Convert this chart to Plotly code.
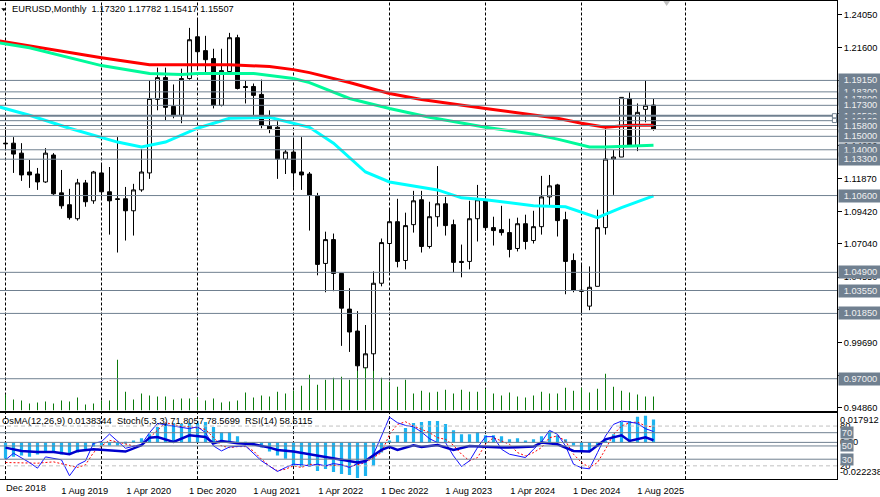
import plotly.graph_objects as go

# monthly bars, bar 0 = Dec 2018
opens = [1.1449, 1.1449, 1.1375, 1.1235, 1.1220, 1.1161, 1.1361, 1.1080, 1.0992, 1.0888,
         1.1154, 1.1021, 1.1228, 1.1088, 1.1036, 1.1036, 1.0947, 1.1102, 1.1228, 1.1774,
         1.1936, 1.1722, 1.1656, 1.1929, 1.2239, 1.2136, 1.2077, 1.1730, 1.1981, 1.2232,
         1.1870, 1.1870, 1.1811, 1.1575, 1.1567, 1.1331, 1.1383, 1.1235, 1.1220, 1.1058,
         1.0556, 1.0733, 1.0482, 1.0217, 1.0054, 0.9781, 0.9885, 1.0409, 1.0704, 1.0866,
         1.0578, 1.0844, 1.1029, 1.0682, 1.0903, 1.0999, 1.0844, 1.0571, 1.0571, 1.0888,
         1.1021, 1.0822, 1.0807, 1.0785, 1.0667, 1.0851, 1.0726, 1.0829, 1.1050, 1.1139,
         1.0881, 1.0578, 1.0357, 1.0239, 1.0386, 1.0822, 1.1331, 1.1346, 1.1781, 1.1427,
         1.1700, 1.17320]
highs = [1.1567, 1.1494, 1.1449, 1.1324, 1.1265, 1.1412, 1.1375, 1.1250, 1.1110, 1.1184,
         1.1176, 1.1243, 1.1287, 1.1272, 1.1494, 1.1124, 1.1147, 1.1405, 1.1914, 1.2010,
         1.2010, 1.1885, 1.2002, 1.2305, 1.2372, 1.2246, 1.2150, 1.2150, 1.2268, 1.2254,
         1.1914, 1.1892, 1.1921, 1.1693, 1.1612, 1.1398, 1.1486, 1.1494, 1.1235, 1.1080,
         1.0792, 1.0778, 1.0482, 1.0372, 1.0202, 1.0099, 1.0497, 1.0741, 1.0955, 1.1036,
         1.0933, 1.1095, 1.1095, 1.1014, 1.1279, 1.1050, 1.0881, 1.0696, 1.1021, 1.1139,
         1.1088, 1.0903, 1.0984, 1.0888, 1.0896, 1.0918, 1.0947, 1.1206, 1.1213, 1.1147,
         1.0940, 1.0630, 1.0549, 1.0534, 1.0955, 1.1567, 1.1398, 1.1789, 1.1826, 1.1744,
         1.1914, 1.17782]
lows = [1.1398, 1.1228, 1.1169, 1.1117, 1.1102, 1.1154, 1.1065, 1.0962, 1.0881, 1.0874,
        1.0977, 1.0999, 1.1029, 1.0770, 1.0637, 1.0726, 1.0763, 1.1088, 1.1184, 1.1693,
        1.1619, 1.1634, 1.1597, 1.1921, 1.2002, 1.1973, 1.1707, 1.1722, 1.1973, 1.1848,
        1.1744, 1.1656, 1.1560, 1.1523, 1.1184, 1.1220, 1.1117, 1.1102, 1.0800, 1.0468,
        1.0342, 1.0350, 0.9944, 0.9899, 0.9737, 0.9737, 0.9752, 1.0386, 1.0490, 1.0527,
        1.0512, 1.0785, 1.0637, 1.0667, 1.0829, 1.0763, 1.0490, 1.0453, 1.0512, 1.0719,
        1.0800, 1.0689, 1.0763, 1.0601, 1.0645, 1.0660, 1.0704, 1.0770, 1.0984, 1.0756,
        1.0327, 1.0342, 1.0180, 1.0209, 1.0386, 1.0770, 1.1065, 1.1346, 1.1427, 1.1390,
        1.1604, 1.15417]
closes = [1.1445, 1.1368, 1.1213, 1.1213, 1.1161, 1.1375, 1.1073, 1.0984, 1.0896, 1.1154,
          1.1014, 1.1235, 1.1088, 1.1021, 1.1032, 1.0947, 1.1102, 1.1235, 1.1781, 1.1936,
          1.1715, 1.1656, 1.1929, 1.2217, 1.2128, 1.2069, 1.1730, 1.1988, 1.2232, 1.1855,
          1.1863, 1.1804, 1.1582, 1.1553, 1.1331, 1.1383, 1.1228, 1.1213, 1.1065, 1.0549,
          1.0733, 1.0482, 1.0224, 1.0047, 0.9796, 0.9885, 1.0409, 1.0711, 1.0866, 1.0571,
          1.0837, 1.1021, 1.0682, 1.0903, 1.0999, 1.0837, 1.0564, 1.0564, 1.0888, 1.1029,
          1.0822, 1.0800, 1.0785, 1.0660, 1.0851, 1.0719, 1.0829, 1.1050, 1.1132, 1.0874,
          1.0571, 1.0357, 1.0350, 1.0379, 1.0822, 1.1331, 1.1346, 1.1789, 1.1427, 1.1678,
          1.1730, 1.15507]
bars = list(range(len(closes)))

volumes = [160, 110, 100, 70, 80, 90, 70, 100, 90, 130, 60, 70, 100, 100, 510, 190, 110, 170,
           150, 140, 140, 110, 120, 120, 130, 100, 120, 80, 90, 100, 180, 130, 150, 140, 190,
           170, 200, 250, 360, 260, 310, 330, 340, 310, 400, 430, 400, 330, 290, 240, 310,
           170, 200, 180, 190, 210, 170, 210, 190, 190, 220, 170, 150, 180, 140, 130, 150,
           190, 170, 170, 230, 200, 230, 180, 220, 370, 240, 200, 180, 160, 140, 140]

ma_red_bars = [-1, 12, 18, 24, 28, 33, 36, 38, 43, 48, 52, 60, 66, 69, 72, 75, 78, 81]
ma_red = [1.2210, 1.2084, 1.2032, 1.2032, 1.2032, 1.2018, 1.1995, 1.1973, 1.1899, 1.1818,
          1.1774, 1.1707, 1.1656, 1.1634, 1.1597, 1.1567, 1.1582, 1.1582]
ma_green_bars = [-1, 3, 12, 18, 22, 24, 31, 36, 38, 43, 48, 53, 60, 66, 69, 73, 75, 78, 81]
ma_green = [1.2195, 1.2158, 1.2025, 1.1966, 1.1958, 1.1966, 1.1966, 1.1929, 1.1899, 1.1781,
            1.1707, 1.1641, 1.1567, 1.1516, 1.1479, 1.1420, 1.1420, 1.1427, 1.1434]
ma_cyan_bars = [-1, 3, 8, 14, 17, 20, 24, 28, 33, 36, 38, 41, 45, 48, 54, 57, 60, 66, 70, 74, 77, 81]
ma_cyan = [1.1722, 1.1656, 1.1560, 1.1457, 1.1420, 1.1457, 1.1560, 1.1634, 1.1641, 1.1597,
           1.1567, 1.1449, 1.1235, 1.1161, 1.1102, 1.1043, 1.1029, 1.0984, 1.0977, 1.0896,
           1.0970, 1.1058]

osma = [-.0099, -.0087, -.0080, -.0087, -.0074, -.0062, -.0062, -.0074, -.0074, -.0062,
        -.0049, -.0025, -.0019, -.0019, -.0019, -.0006, .0012, .0025, .0049, .0093,
        .0117, .0117, .0111, .0117, .0117, .0124, .0093, .0062, .0062, .0037,
        -.0006, -.0019, -.0031, -.0056, -.0080, -.0099, -.0142, -.0148, -.0148, -.0173,
        -.0161, -.0179, -.0192, -.0198, -.0216, -.0204, -.0142, -.0062, .0012, .0043,
        .0087, .0117, .0124, .0130, .0130, .0111, .0074, .0049, .0049, .0062,
        .0043, .0043, .0037, .0019, .0025, .0012, .0019, .0037, .0068, .0043,
        .0019, -.0019, -.0056, -.0056, -.0025, .0012, .0049, .0124, .0130, .0155,
        .0161, .01383]

rsi_bars = [0, 2, 4, 6, 8, 9, 11, 13, 15, 17, 18, 19, 21, 23, 25, 26, 27, 29, 31, 33, 34, 36,
            38, 40, 42, 44, 45, 47, 48, 49, 51, 52, 54, 56, 58, 60, 62, 64, 66, 67, 69, 71, 72,
            73, 75, 77, 78, 80, 81]
rsi = [47.5, 42.5, 41, 41, 37.5, 42.5, 45, 43.5, 41.5, 51, 62.5, 63.5, 56, 66, 63.5, 54, 57.5,
       54, 52.5, 47.5, 44, 41.5, 37.5, 33.5, 28.5, 25, 27.5, 44, 48.5, 44, 51, 48.5, 51.5, 44,
       50, 48.5, 47.5, 48, 49, 55, 52.5, 42.5, 41.5, 41.5, 60, 66, 57.5, 63, 58.6]

stoch_main_bars = [0, 1, 3, 4, 5, 7, 8, 9, 10, 11, 12, 13, 15, 16, 17, 18, 19, 21, 23, 24, 25, 26,
                   27, 28, 30, 32, 34, 35, 36, 37, 38, 39, 40, 41, 42, 43, 44, 45, 46, 47, 48, 49,
                   50, 51, 52, 53, 54, 55, 56, 57, 58, 59, 60, 61, 62, 63, 64, 65, 66, 67, 68, 69,
                   70, 71, 72, 73, 74, 75, 76, 77, 78, 79, 80, 81]
stoch_main = [29, 39, 25, 16.5, 33.5, 29, 5, 21.5, 27.5, 54, 56.5, 68, 46.5, 49, 52.5, 70, 84, 80,
              76, 79, 70, 50, 42.5, 48.5, 50, 27.5, 11.5, 17.5, 22.5, 21.5, 20, 22.5, 20, 23.5,
              21.5, 17.5, 23.5, 25, 37.5, 65, 93.5, 85, 81, 79, 71, 61, 55, 55, 35, 19, 27.5,
              47.5, 64, 64, 45, 37.5, 35, 32.5, 45, 56, 73.5, 67.5, 50, 22.5, 17, 15.5, 40, 65,
              82.5, 87.5, 86, 84, 76, 71.8]
stoch_sig_bars = [0, 2, 4, 6, 8, 9, 10, 11, 12, 13, 14, 15, 16, 17, 18, 19, 20, 21, 22, 23, 24, 25,
                  26, 27, 28, 29, 30, 31, 32, 33, 34, 35, 36, 37, 38, 40, 42, 43, 44, 45, 46, 47,
                  48, 49, 50, 51, 52, 53, 54, 55, 56, 57, 58, 59, 60, 61, 62, 63, 64, 65, 66, 67,
                  68, 69, 70, 71, 72, 73, 74, 75, 76, 77, 78, 79, 80, 81]
stoch_sig = [25, 25, 24, 26, 21, 17.5, 21.5, 40, 50, 58.5, 56, 52.5, 50, 51, 62.5, 72.5, 85, 82.5,
             79, 79, 77.5, 75, 62.5, 50, 47.5, 49, 49, 42.5, 30, 20, 12.5, 15, 20, 17.5, 22.5, 20,
             21.5, 19, 21.5, 25, 32.5, 40, 67.5, 82.5, 86.5, 80, 75, 70, 62.5, 60, 51, 37.5, 27.5,
             32.5, 52.5, 62.5, 57.5, 52.5, 40, 35, 40, 47.5, 62.5, 65, 57.5, 37.5, 25, 17.5, 25,
             45, 67.5, 80, 85, 86, 80, 78.6]

# drawn support / resistance levels, label order is the stacking order
levels = [1.1915, 1.1830, 1.1780, 1.1652, 1.1616, 1.1730, 1.1580, 1.1500, 1.1400, 1.1330,
          1.1060, 1.0490, 1.0355, 1.0185, 0.9700]
price_now = 1.15507

price_ticks = [1.2405, 1.2160, 1.1915, 1.1671, 1.1429, 1.1187, 1.0942, 1.0704, 1.0455, 1.0214,
               0.9969, 0.9724, 0.9486]
date_tick_bars = [8, 16, 24, 32, 40, 48, 56, 64, 72, 80]
date_labels = ["1 Aug 2019", "1 Apr 2020", "1 Dec 2020", "1 Aug 2021", "1 Apr 2022",
               "1 Dec 2022", "1 Aug 2023", "1 Apr 2024", "1 Dec 2024", "1 Aug 2025"]
period_bars = [0, 12, 24, 36, 48, 60, 72, 85]

FONT = "Liberation Sans"
FS = 9.3
SLATE = "#708090"
W, H = 880, 497
XR = [-0.6875, 103.9375]  # exactly 8 px per bar
PRICE_R = [0.9464, 1.25046]
OSMA_R = [-0.022238, 0.017912]

fig = go.Figure()
fig.add_trace(go.Candlestick(
    x=bars, open=opens, high=highs, low=lows, close=closes, xaxis="x", yaxis="y",
    whiskerwidth=0, line_width=1,
    increasing=dict(fillcolor="white", line=dict(color="black", width=1)),
    decreasing=dict(fillcolor="black", line=dict(color="black", width=1)),
))
for b, v, c in [(ma_red_bars, ma_red, "#ff0000"), (ma_green_bars, ma_green, "#00fa9a"),
                (ma_cyan_bars, ma_cyan, "#00ffff")]:
    fig.add_trace(go.Scatter(x=b, y=v, mode="lines", line=dict(color=c, width=3), xaxis="x", yaxis="y"))
fig.add_trace(go.Bar(x=bars, y=volumes, width=0.125, marker=dict(color="#0a7a0a", line_width=0),
                     xaxis="x", yaxis="y2"))

fig.add_trace(go.Bar(x=bars, y=osma, width=0.4, marker=dict(color="#1eb4f0", line_width=0),
                     xaxis="x2", yaxis="y3"))
fig.add_trace(go.Scatter(x=stoch_sig_bars, y=stoch_sig, mode="lines",
                         line=dict(color="#ff0000", width=1, dash="2px,2px"), xaxis="x2", yaxis="y4"))
fig.add_trace(go.Scatter(x=stoch_main_bars, y=stoch_main, mode="lines",
                         line=dict(color="#1414ff", width=1), xaxis="x2", yaxis="y4"))
fig.add_trace(go.Scatter(x=rsi_bars, y=rsi, mode="lines",
                         line=dict(color="#0000cd", width=2.5), xaxis="x2", yaxis="y4"))

shapes = []
for b in period_bars:
    shapes.append(dict(type="line", xref="x", yref="y", x0=b, x1=b, y0=PRICE_R[0], y1=PRICE_R[1],
                       line=dict(color="black", width=1, dash="3px,2px"), layer="below"))
    shapes.append(dict(type="line", xref="x2", yref="y3", x0=b, x1=b, y0=OSMA_R[0], y1=OSMA_R[1],
                       line=dict(color="black", width=1, dash="3px,2px"), layer="below"))
for lv in levels:
    shapes.append(dict(type="line", xref="paper", yref="y", x0=0, x1=1, y0=lv, y1=lv,
                       line=dict(color=SLATE, width=2 if lv == 1.1652 else 1)))
shapes.append(dict(type="line", xref="paper", yref="y", x0=0, x1=1, y0=price_now, y1=price_now,
                   line=dict(color="#c0c0c0", width=1)))
# stoch / rsi levels in the sub window
for lv, c, d in [(80, "#c0c0c0", "4px,3px"), (20, "#c0c0c0", "4px,3px"), (70, SLATE, "solid"),
                 (50, SLATE, "solid"), (30, SLATE, "solid")]:
    shapes.append(dict(type="line", xref="paper", yref="y4", x0=0, x1=1, y0=lv, y1=lv,
                       line=dict(color=c, width=1, dash=d)))
shapes.append(dict(type="line", xref="paper", yref="y3", x0=0, x1=1, y0=0, y1=0,
                   line=dict(color=SLATE, width=1)))
# little selection handles and the chart shift marker
for y0, y1 in [(1.1668, 1.1636), (1.1634, 1.1602)]:
    shapes.append(dict(type="rect", xref="paper", yref="y", x0=0.9945, x1=0.9995, y0=y0, y1=y1,
                       fillcolor="white", line=dict(color=SLATE, width=1)))
shapes.append(dict(type="path", xref="paper", yref="paper",
                   path="M 0.7925 1 L 0.8005 1 L 0.7965 0.99 Z", fillcolor="#c0c0c0", line_width=0))
shapes.append(dict(type="path", xref="paper", yref="paper",
                   path="M 0.0015 0.9855 L 0.0075 0.9855 L 0.0045 0.9795 Z", fillcolor="black", line_width=0))

annotations = []
for lv in levels:
    annotations.append(dict(
        xref="paper", yref="y", x=1, y=lv, xanchor="left", yanchor="middle", xshift=1,
        text=f"{lv:.5f}", showarrow=False, width=43, height=12, borderpad=0, bgcolor=SLATE,
        align="center", font=dict(family=FONT, size=FS, color="#f0f0f0")))
for lv in [80, 20]:
    annotations.append(dict(xref="paper", yref="y4", x=1, y=lv, xanchor="left", yanchor="middle", xshift=1,
                            text=str(lv), showarrow=False, font=dict(family=FONT, size=FS, color="black")))
for txt, val, shift in [("0.017912", OSMA_R[1], -7), ("0.00", 0, 0), ("-0.022238", OSMA_R[0], 7)]:
    annotations.append(dict(xref="paper", yref="y3", x=1, y=val, xanchor="left", yanchor="middle", xshift=1,
                            yshift=shift, text=txt, showarrow=False, font=dict(family=FONT, size=FS, color="black")))
for lv in [70, 50, 30]:
    annotations.append(dict(xref="paper", yref="y4", x=1, y=lv, xanchor="left", yanchor="middle", xshift=3,
                            text=str(lv), showarrow=False, width=12, height=11, borderpad=0, bgcolor=SLATE,
                            font=dict(family=FONT, size=FS, color="#f0f0f0")))
annotations.append(dict(xref="paper", yref="paper", x=10 / 837, y=1 - 8 / H, xanchor="left", yanchor="middle",
                        text="EURUSD,Monthly  1.17320 1.17782 1.15417 1.15507", showarrow=False,
                        font=dict(family=FONT, size=FS, color="black")))
for txt, x0 in [("OsMA(12,26,9) 0.0138344", 0), ("Stoch(5,3,3) 71.8057 78.5699", 115), ("RSI(14) 58.6115", 243)]:
    annotations.append(dict(xref="paper", yref="paper", x=x0 / 837, y=1 - 423 / H, xanchor="left", yanchor="middle",
                            text=txt, showarrow=False, font=dict(family=FONT, size=FS, color="black")))
# the first date label runs off the left edge of the window, only this part shows
annotations.append(dict(xref="x2", yref="paper", x=0, y=1 - 490 / H, xanchor="left", yanchor="middle", xshift=-2,
                        text="Dec 2018", showarrow=False, font=dict(family=FONT, size=FS, color="black")))

fig.update_layout(
    width=W, height=H,
    margin=dict(l=0, r=880 - 837, t=0, b=0),
    paper_bgcolor="white", plot_bgcolor="white",
    showlegend=False, barmode="overlay", hovermode=False,
    shapes=shapes, annotations=annotations,
    font=dict(family=FONT, size=FS, color="black"),
    xaxis=dict(domain=[0, 1], range=XR, anchor="y", showgrid=False, showticklabels=False, ticks="",
               rangeslider=dict(visible=False), showline=True, linecolor="black", linewidth=1, mirror=True,
               zeroline=False),
    xaxis2=dict(domain=[0, 1], range=XR, anchor="y3", showgrid=False, matches="x", ticks="",
                tickmode="array", tickvals=[b + 1.9 for b in date_tick_bars], ticktext=date_labels,
                tickangle=0, showline=True, linecolor="black", linewidth=1, mirror=True, zeroline=False,
                ticklabelstandoff=3, tickfont=dict(family=FONT, size=FS, color="black")),
    yaxis=dict(domain=[(H - 412) / H, 1], range=PRICE_R, side="right", anchor="x", showgrid=False,
               zeroline=False, tickmode="array", tickvals=price_ticks, ticktext=[f"{t:.5f}" for t in price_ticks],
               ticks="outside", ticklen=4, tickcolor="black", showline=True, linecolor="black", linewidth=1,
               tickfont=dict(family=FONT, size=FS, color="black")),
    yaxis2=dict(domain=[(H - 412) / H, 1], range=[0, 4120], overlaying="y", side="left", visible=False),
    yaxis3=dict(domain=[(H - 481) / H, (H - 414.3) / H], range=OSMA_R, side="right", anchor="x2", showgrid=False,
                zeroline=False, showticklabels=False, ticks="", showline=True, linecolor="black", linewidth=1),
    yaxis4=dict(domain=[(H - 481) / H, (H - 414.3) / H], range=[0, 100], overlaying="y3", side="left", visible=False),
)

fig.write_html("out.html", config=dict(displayModeBar=False),
               post_script="document.body.style.margin='0';")
